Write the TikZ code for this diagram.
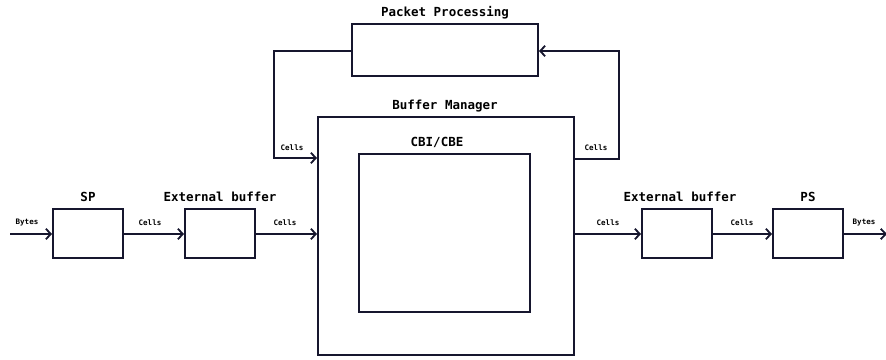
\documentclass[tikz,border=0pt]{standalone}
\usepackage{fontspec}
\setmonofont{DejaVu Sans Mono}
\usetikzlibrary{arrows.meta}
\definecolor{ln}{HTML}{16162E}
\begin{document}
\begin{tikzpicture}[x=1pt,y=-1pt,
  blk/.style={draw=ln,line width=1.8pt,minimum width=#1,inner sep=0pt},
  ttl/.style={font=\ttfamily\bfseries\fontsize{12.5}{14}\selectfont,text=black,inner sep=0pt},
  sml/.style={font=\ttfamily\bfseries\fontsize{7.5}{9}\selectfont,text=black,inner sep=0pt},
  con/.style={draw=ln,line width=1.8pt,-{Straight Barb[length=5pt,width=10.5pt,line width=1.8pt]}},
  pln/.style={draw=ln,line width=1.8pt}]
\useasboundingbox (0,0) rectangle (886,359);
% boxes
\node[blk=70pt,minimum height=49pt] (sp) at (88,233.5) {};
\node[blk=70pt,minimum height=49pt] (eb1) at (220,233.5) {};
\node[blk=256pt,minimum height=238pt] (bm) at (446,236) {};
\node[blk=171pt,minimum height=158pt] (cb) at (444.5,233) {};
\node[blk=70pt,minimum height=49pt] (eb2) at (677,233.5) {};
\node[blk=70pt,minimum height=49pt] (ps) at (808,233.5) {};
\node[blk=186pt,minimum height=52pt] (pp) at (445,50) {};
% titles
\node[ttl] (tsp) at (88,197) {SP};
\node[ttl] (teb1) at (220,197) {External buffer};
\node[ttl] (tbm) at (445,106) {Buffer Manager};
\node[ttl] (tcb) at (437,142) {CBI/CBE};
\node[ttl] (teb2) at (680,197) {External buffer};
\node[ttl] (tps) at (808,197) {PS};
\node[ttl] (tpp) at (445,13) {Packet Processing};
% coordinates
\coordinate (in) at (10,234);
\coordinate (out) at (887,234);
\coordinate (l1) at (274,51);
\coordinate (l2) at (274,158);
\coordinate (r1) at (619,159);
\coordinate (r2) at (619,51);
% connectors
\draw[con] (in) -- (sp.west|-in);
\draw[con] (sp.east|-in) -- (eb1.west|-in);
\draw[con] (eb1.east|-in) -- (bm.west|-in);
\draw[con] (bm.east|-in) -- (eb2.west|-in);
\draw[con] (eb2.east|-in) -- (ps.west|-in);
\draw[con] (ps.east|-in) -- (out);
\draw[con] (pp.west|-l1) -- (l1) -- (l2) -- (bm.west|-l2);
\draw[con] (bm.east|-r1) -- (r1) -- (r2) -- (pp.east|-r2);
% small labels
\node[sml] (b1) at (27,223) {Bytes};
\node[sml] (c1) at (150,223) {Cells};
\node[sml] (c2) at (285,223) {Cells};
\node[sml] (c3) at (608,223) {Cells};
\node[sml] (c4) at (742,223) {Cells};
\node[sml] (b2) at (864,223) {Bytes};
\node[sml] (c5) at (292,148) {Cells};
\node[sml] (c6) at (596,148) {Cells};
\end{tikzpicture}
\end{document}
